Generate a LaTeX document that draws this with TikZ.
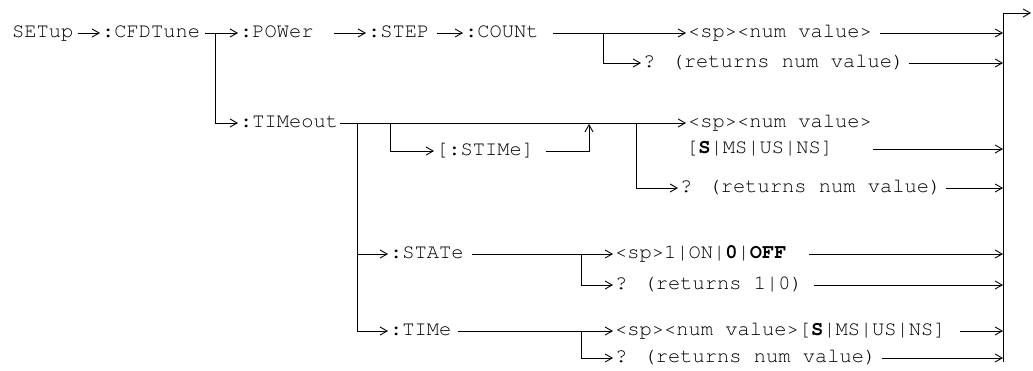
\documentclass[tikz,border=0pt]{standalone}
\usepackage{fontspec}
\newfontfamily\cmdfont{texgyrecursor}[Extension=.otf,
  UprightFont=*-regular,BoldFont=*-bold]
\usetikzlibrary{arrows.meta,positioning,calc}

\begin{document}
\begin{tikzpicture}[x=1pt,y=-1pt,
    cmd/.style={anchor=west,inner sep=0pt,text height=8pt,text depth=0pt,
                font=\cmdfont\fontsize{20.4}{24}\selectfont},
    wire/.style={draw,line width=0.9pt},
    arr/.style={wire,-{Straight Barb[length=7pt,width=8pt]},shorten >=2pt},
    torail/.style={arr,shorten >=0pt}
  ]
  \useasboundingbox (0,0) rectangle (1033,370);
  % right rail
  \coordinate (rail) at (1003,13);
  \coordinate (railend) at (1003,362);
  \coordinate (exit) at (1031,13);
  \draw[wire] (rail) -- (railend);
  \draw[torail] (rail) -- (exit);

  % top row
  \node[cmd] (setup) at (12,33) {SETup};
  \node[cmd] (cfd) at (102,33) {:CFDTune};
  \node[cmd] (power) at (240,33) {:POWer};
  \node[cmd] (step) at (368,33) {:STEP};
  \node[cmd] (count) at (465,33) {:COUNt};
  \node[cmd] (spnum1) at (688,33) {<sp><num value>};
  \node[cmd] (q1) at (643,63) {? (returns num value)};
  \draw[arr] ([xshift=4pt]setup.east) -- (cfd.west);
  \draw[arr] ([xshift=5pt]cfd.east) -- (power.west);
  \draw[arr] ([xshift=20pt]power.east) -- (step.west);
  \draw[arr] ([xshift=7pt]step.east) -- (count.west);
  \draw[arr] ([xshift=14pt]count.east) -- (spnum1.west);
  \coordinate (cntj) at (603,33);
  \draw[arr] (cntj) |- (q1.west);
  \draw[torail] ([xshift=8pt]spnum1.east) -- (spnum1.east -| rail);
  \draw[torail] ([xshift=4pt]q1.east) -- (q1.east -| rail);

  % TIMeout branch
  \coordinate (cfdj) at (215,33);
  \node[cmd] (timeout) at (240,123) {:TIMeout};
  \draw[arr] (cfdj) |- (timeout.west);
  \node[cmd] (stime) at (436,151) {[:STIMe]};
  \node[cmd] (spnum2) at (688,123) {<sp><num value>};
  \node[cmd] (units2) at (686,149) {[\textbf{S}|MS|US|NS]};
  \node[cmd] (q2) at (680,188) {? (returns num value)};
  \draw[arr] ([xshift=2pt]timeout.east) -- (spnum2.west);
  \coordinate (tj2) at (390,123);
  \coordinate (tj3) at (589,123);
  \coordinate (tj4) at (636,123);
  \draw[arr] (tj2) |- (stime.west);
  \draw[arr,shorten >=1pt] ([xshift=12pt]stime.east) -| (tj3);
  \draw[arr] (tj4) |- (q2.west);
  \draw[torail] ([xshift=40pt]units2.east) -- (units2.east -| rail);
  \draw[torail] ([xshift=4pt]q2.east) -- (q2.east -| rail);

  % STATe and TIMe
  \coordinate (tj1) at (357,123);
  \node[cmd] (state) at (390,254) {:STATe};
  \node[cmd] (time) at (390,331) {:TIMe};
  \draw[arr] (tj1) |- (state.west);
  \draw[arr] (tj1) |- (time.west);
  \node[cmd] (onoff) at (615,254) {<sp>1|ON|\textbf{0}|\textbf{OFF}};
  \node[cmd] (q3) at (615,285) {? (returns 1|0)};
  \node[cmd] (tval) at (615,331) {<sp><num value>[\textbf{S}|MS|US|NS]};
  \node[cmd] (q4) at (615,358) {? (returns num value)};
  \coordinate (sj) at (581,254);
  \coordinate (mj) at (581,331);
  \draw[arr] ([xshift=8pt]state.east) -- (onoff.west);
  \draw[arr] (sj) |- (q3.west);
  \draw[arr] ([xshift=6pt]time.east) -- (tval.west);
  \draw[arr] (mj) |- (q4.west);
  \draw[torail] ([xshift=22pt]onoff.east) -- (onoff.east -| rail);
  \draw[torail] ([xshift=11pt]q3.east) -- (q3.east -| rail);
  \draw[torail] ([xshift=14pt]tval.east) -- (tval.east -| rail);
  \draw[torail] ([xshift=5pt]q4.east) -- (q4.east -| rail);
\end{tikzpicture}
\end{document}
